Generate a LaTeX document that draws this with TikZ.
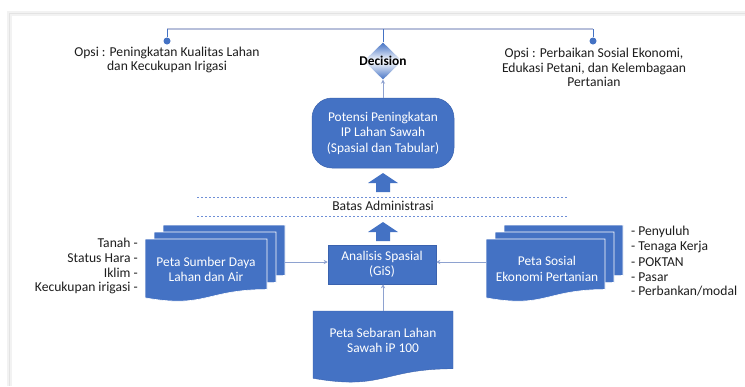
\documentclass[tikz,border=0pt]{standalone}
\usepackage{fontspec}
\setmainfont{Carlito}
\usetikzlibrary{shapes.geometric,arrows.meta}
\definecolor{obl}{HTML}{4472C4}
\definecolor{oblD}{HTML}{3A62AE}
\definecolor{connc}{HTML}{8EA2D0}
\definecolor{txt}{HTML}{1E1E1E}
\definecolor{brH}{HTML}{B7BFDA}
\definecolor{dashc}{HTML}{6F8FD6}

\newcommand{\docfill}[5]{%
  \path[#1] (#2,#3) -- ({#2+#4},#3) -- ({#2+#4},{#3+0.802*#5})
    .. controls ({#2+0.5*#4},{#3+0.802*#5}) and ({#2+0.5*#4},{#3+1.107*#5}) .. (#2,{#3+0.934*#5}) -- cycle;}
\newcommand{\multidoc}[5]{%
  \docfill{#1}{#2+18}{#3-14}{#4}{#5}%
  \docfill{#1}{#2+9}{#3-7}{#4}{#5}%
  \docfill{#1}{#2}{#3}{#4}{#5}}

\begin{document}
\begin{tikzpicture}[x=1pt,y=-1pt,
  lbl/.style={font=\fontsize{13.6}{14.8}\selectfont, text=txt, inner sep=0pt},
  boxtxt/.style={font=\fontsize{13.4}{15.5}\selectfont, text=white, align=center, inner sep=0pt},
  conn/.style={draw=connc, line width=0.8pt},
  tipc/.style={-{Stealth[length=4pt,width=4pt]}},
  dashln/.style={draw=dashc, line width=0.8pt, dash pattern=on 2pt off 2pt},
  docst/.style={fill=obl, draw=white, line width=0.6pt},
  dotn/.style={circle, fill=obl, inner sep=0pt, minimum size=7pt}]

\useasboundingbox (0,0) rectangle (745,386);
\fill[white] (0,0) rectangle (745,386);
% frame of the screenshot
\draw[gray!10, line width=5pt] (9,386) -- (9,13) -- (745,13);
\draw[gray!22, line width=1pt] (9,386) -- (9,13) -- (745,13);

% top bracket
\coordinate (tl) at (167,29);
\coordinate (tr) at (593,29);
\node[dotn] (dl) at (167,41) {};
\node[dotn] (dr) at (593,41) {};
\draw[draw=brH, line width=1.2pt] (tl) -- (tr);
\draw[draw=obl, line width=1pt] (dl) -- (tl);
\draw[draw=obl, line width=1pt] (dr) -- (tr);

% decision
\node[diamond, minimum width=38pt, minimum height=37pt, inner sep=0pt,
      top color=obl, bottom color=obl, middle color=white] (dec) at (383,61) {};
\draw[draw=obl, line width=1pt] (dec.north) -- (dec.north |- tl);
\node[font=\bfseries\fontsize{13.4}{14}\selectfont, text=black, inner sep=0pt] (dectxt) at (383,61) {Decision};

% options
\node[lbl, align=center] (opL) at (167,60) {Opsi : Peningkatan Kualitas Lahan\\dan Kecukupan Irigasi};
\node[lbl, align=center] (opR) at (594,67.5) {Opsi : Perbaikan Sosial Ekonomi,\\Edukasi Petani, dan Kelembagaan\\Pertanian};

% potensi box
\node[fill=obl, draw=oblD, line width=0.5pt, rounded corners=20pt, minimum width=142pt, minimum height=70pt, boxtxt] (pot) at (383,133)
  {Potensi Peningkatan\\IP Lahan Sawah\\(Spasial dan Tabular)};
\draw[conn, tipc] (pot.north) -- (dec.south);

% block arrow 1
\fill[obl] (383,173) -- (398,183) -- (390,183) -- (390,192) -- (376,192) -- (376,183) -- (368,183) -- cycle;

% administrative boundary
\coordinate (da1) at (197,197); \coordinate (da2) at (567,197);
\coordinate (db1) at (197,216); \coordinate (db2) at (567,216);
\draw[dashln] (da1) -- (da2);
\draw[dashln] (db1) -- (db2);
\node[lbl] (batas) at (383,206) {Batas Administrasi};

% block arrow 2
\fill[obl] (383,222) -- (398,232) -- (390,232) -- (390,241) -- (376,241) -- (376,232) -- (368,232) -- cycle;

% analisis
\node[fill=obl, draw=oblD, line width=0.5pt, minimum width=108pt, minimum height=39pt, boxtxt] (ana) at (382,264.5)
  {Analisis Spasial\\(GiS)};

% left multidocument
\multidoc{docst}{145}{239}{122}{63}
\node[boxtxt] (lsd) at (206,269.5) {Peta Sumber Daya\\Lahan dan Air};
% right multidocument
\multidoc{docst}{486}{239}{119}{63}
\node[boxtxt] (rsd) at (547,269) {Peta Sosial\\Ekonomi Pertanian};
% bottom document
\docfill{fill=obl, draw=oblD, line width=0.4pt}{313}{311}{140}{72}
\node[boxtxt] (seb) at (383,340.5) {Peta Sebaran Lahan\\Sawah iP 100};

% connectors
\coordinate (lsdE) at (285,262);
\coordinate (rsdW) at (486,262);
\coordinate (sebN) at (383,311);
\draw[conn, tipc] (lsdE) -- (lsdE -| ana.west);
\draw[conn, tipc] (rsdW) -- (rsdW -| ana.east);
\draw[conn, tipc] (sebN) -- (sebN |- ana.south);

% left labels
\node[lbl, anchor=east] (l1) at (138,243) {Tanah -};
\node[lbl, anchor=east] (l2) at (138,258) {Status Hara -};
\node[lbl, anchor=east] (l3) at (138,273) {Iklim -};
\node[lbl, anchor=east] (l4) at (138,288) {Kecukupan irigasi -};
% right labels
\node[lbl, anchor=west] (r1) at (631,232) {- Penyuluh};
\node[lbl, anchor=west] (r2) at (631,247) {- Tenaga Kerja};
\node[lbl, anchor=west] (r3) at (631,262) {- POKTAN};
\node[lbl, anchor=west] (r4) at (631,277) {- Pasar};
\node[lbl, anchor=west] (r5) at (631,291.5) {- Perbankan/modal};
\end{tikzpicture}
\end{document}
